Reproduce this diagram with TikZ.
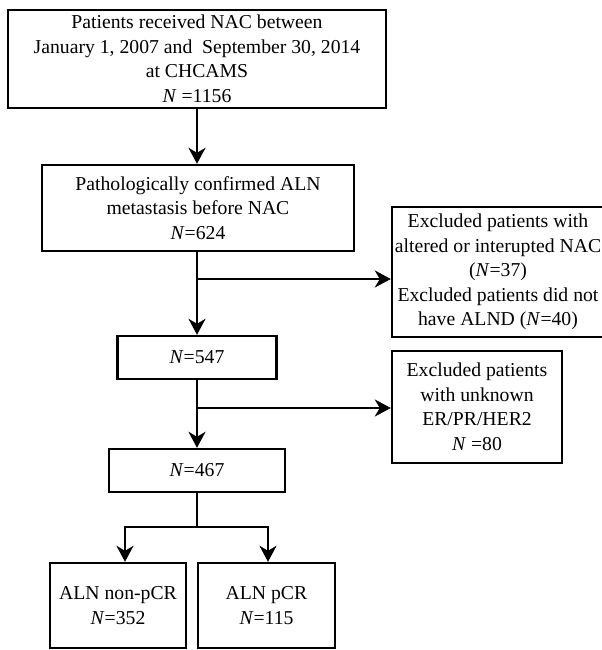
\documentclass[tikz,border=0pt]{standalone}
\usepackage{fontspec}
\setmainfont{Liberation Serif}
\usetikzlibrary{arrows.meta}
\begin{document}
\begin{tikzpicture}[x=1bp,y=-1bp,
  box/.style={draw, line width=2.4bp, inner sep=0pt, align=center,
    font=\fontsize{19.7bp}{24.5bp}\selectfont},
  arr/.style={line width=2.4bp, -{Stealth[length=16bp,width=17bp,inset=5bp]}},
  ln/.style={line width=2.4bp}]
\useasboundingbox (0,0) rectangle (602,650);
\node[box, minimum width=378bp, minimum height=98bp] (b1) at (197,59)
  {Patients received NAC between\\January 1, 2007 and~ September 30, 2014\\at CHCAMS\\\textit{N} =1156};
\node[box, minimum width=312bp, minimum height=86bp] (b2) at (198,208)
  {Pathologically confirmed ALN\\metastasis before NAC\\\textit{N}=624};
\node[box, minimum width=212bp, minimum height=130bp] (e1) at (498,272)
  {Excluded patients with\\altered or interupted NAC\\(\textit{N}=37)\\Excluded patients did not\\have ALND (\textit{N}=40)};
\node[box, minimum width=159bp, minimum height=43bp] (b3) at (197,357.5)
  {\textit{N}=547};
\node[box, minimum width=170bp, minimum height=112bp] (e2) at (477,407)
  {Excluded patients\\with unknown\\ER/PR/HER2\\\textit{N} =80};
\node[box, minimum width=176bp, minimum height=43bp] (b4) at (197,470.5)
  {\textit{N}=467};
\node[box, minimum width=136bp, minimum height=85bp] (b5) at (118,605.5)
  {ALN non-pCR\\\textit{N}=352};
\node[box, minimum width=137bp, minimum height=85bp] (b6) at (266.5,605.5)
  {ALN pCR\\\textit{N}=115};
\coordinate (j1) at (197,279);
\coordinate (j2) at (197,408);
\coordinate (j3) at (197,527);
\coordinate (l) at (125,527);
\coordinate (r) at (268,527);
\draw[arr] (b1.south) -- (b1.south |- b2.north);
\draw[arr] (b3.north |- b2.south) -- (b3.north);
\draw[arr] (j1) -- (j1 -| e1.west);
\draw[arr] (b3.south) -- (b4.north);
\draw[arr] (j2) -- (j2 -| e2.west);
\draw[ln] (b4.south) -- (j3);
\draw[arr] (j3) -| (l |- b5.north);
\draw[arr] (j3) -| (r |- b6.north);
\end{tikzpicture}
\end{document}
